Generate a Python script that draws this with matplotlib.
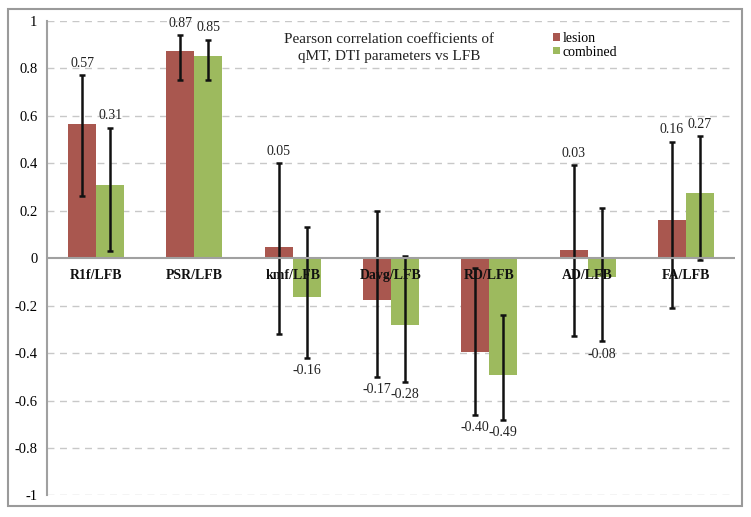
import matplotlib.pyplot as plt
import numpy as np
from matplotlib.patches import Patch, Rectangle

plt.rcParams['font.family'] = ['Liberation Serif', 'DejaVu Serif']
plt.rcParams['axes.unicode_minus'] = False

categories = ["R1f/LFB", "PSR/LFB", "kmf/LFB", "Davg/LFB", "RD/LFB", "AD/LFB", "FA/LFB"]
lesion = [0.565, 0.872, 0.045, -0.175, -0.396, 0.034, 0.161]
combined = [0.309, 0.853, -0.162, -0.281, -0.491, -0.079, 0.274]
lesion_lo = [0.26, 0.75, -0.32, -0.50, -0.66, -0.33, -0.21]
lesion_hi = [0.77, 0.94, 0.40, 0.20, -0.04, 0.39, 0.49]
combined_lo = [0.03, 0.75, -0.42, -0.52, -0.68, -0.35, -0.01]
combined_hi = [0.55, 0.92, 0.13, 0.01, -0.24, 0.21, 0.515]
lesion_txt = ["0.57", "0.87", "0.05", "-0.17", "-0.40", "0.03", "0.16"]
combined_txt = ["0.31", "0.85", "-0.16", "-0.28", "-0.49", "-0.08", "0.27"]
yticks = [1, 0.8, 0.6, 0.4, 0.2, 0, -0.2, -0.4, -0.6, -0.8, -1]

RED = "#A9574F"
GREEN = "#9DBA5E"
GRID = "#C8C8C8"
AXIS = "#A0A0A0"

fig = plt.figure(figsize=(7.51, 5.17), dpi=100)
ax = fig.add_axes([0.0626, 0.0416, 0.916, 0.9184])

x = np.arange(len(categories)) + 0.5
w = 0.285
ax.bar(x - w / 2, lesion, w, color=RED, zorder=2)
ax.bar(x + w / 2, combined, w, color=GREEN, zorder=2)

for xs, vals, lo, hi, txt in [(x - w / 2, lesion, lesion_lo, lesion_hi, lesion_txt),
                              (x + w / 2, combined, combined_lo, combined_hi, combined_txt)]:
    lo = np.array(lo); hi = np.array(hi); vals = np.array(vals)
    ax.errorbar(xs, vals, yerr=[vals - lo, hi - vals], fmt="none", ecolor="#111111",
                elinewidth=1.8, capsize=2.5, capthick=1.8, zorder=3)
    for xi, v, l, h, t in zip(xs, vals, lo, hi, txt):
        if v >= 0:
            ax.annotate(t, (xi, h), xytext=(0, 8.5), textcoords="offset points",
                        ha="center", va="center", fontsize=10, color="#222222")
        else:
            ax.annotate(t, (xi, l), xytext=(0, -9.5), textcoords="offset points",
                        ha="center", va="center", fontsize=10, color="#222222")

ax.set_xlim(0, len(categories))
ax.set_ylim(-1, 1)
ax.set_yticks(yticks)
ax.set_yticklabels([f"{t:g}" for t in yticks], fontsize=10.5)
ax.tick_params(axis="y", length=0, pad=7)
ax.set_xticks([])
for t in yticks:
    if t != 0:
        ax.axhline(t, color=GRID, lw=1.0, ls=(0, (5, 4)), zorder=1)
ax.axhline(0, color=AXIS, lw=1.5, zorder=4)
for s in ["top", "right", "bottom"]:
    ax.spines[s].set_visible(False)
ax.spines["left"].set_color(AXIS)
ax.spines["left"].set_linewidth(1.5)

# category names sit just under the zero line
for xi, c in zip(x, categories):
    ax.annotate(c, (xi, 0), xytext=(0, -12.5), textcoords="offset points",
                ha="center", va="center", fontsize=10, fontweight="bold",
                color="#111111", zorder=5)

ax.text(0.497, 0.942, "Pearson correlation coefficients of\nqMT, DTI parameters vs LFB",
        transform=ax.transAxes, ha="center", va="center", fontsize=11,
        linespacing=1.4, color="#222222")

handles = [Patch(facecolor=RED, label="lesion"), Patch(facecolor=GREEN, label="combined")]
leg = ax.legend(handles=handles, loc="upper left", bbox_to_anchor=(0.728, 0.988),
                frameon=False, fontsize=10, handlelength=0.45, handleheight=0.45,
                handletextpad=0.2, labelspacing=0.05, borderaxespad=0)

fig.patches.append(Rectangle((8 / 751, 11 / 517), 734 / 751, 497 / 517,
                             transform=fig.transFigure, fill=False,
                             edgecolor="#9A9A9A", lw=1.5))

fig.savefig("out.png", dpi=100, facecolor="white")
